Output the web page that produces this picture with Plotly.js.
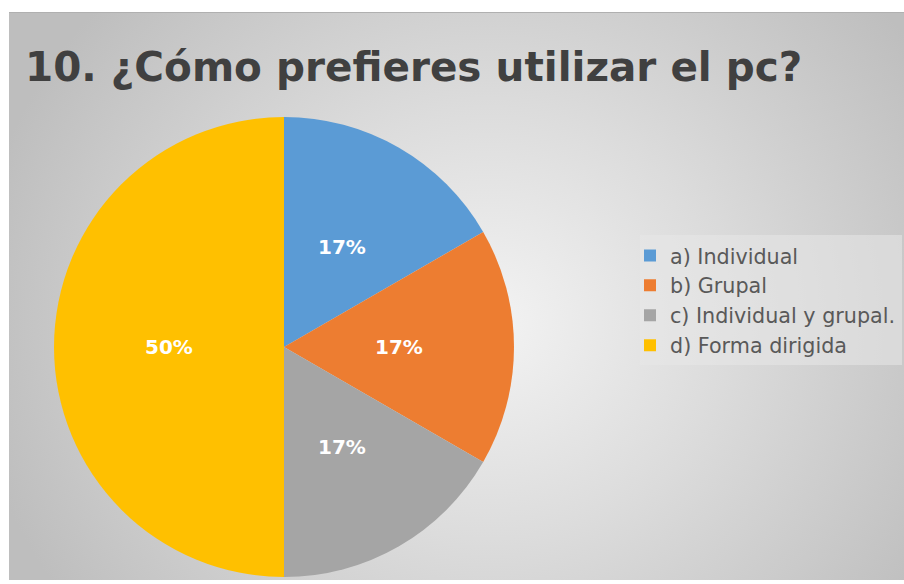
<!DOCTYPE html>
<html>
<head>
<meta charset="utf-8">
<script src="https://cdn.plot.ly/plotly-3.0.1.min.js"></script>
<style>
html,body{margin:0;padding:0;background:#ffffff;}
#wrap{position:relative;width:904px;height:584px;overflow:hidden;}
#bg{position:absolute;left:9px;top:12px;width:895px;height:568px;
background:radial-gradient(ellipse 520px 480px at 480px 310px,#f3f3f3 0%,#dcdcdc 45%,#bebebe 100%);
border-top:1px solid #b0b0b0;box-sizing:border-box;}
#chart{position:absolute;left:0;top:0;width:904px;height:584px;}
</style>
</head>
<body>
<div id="wrap"><div id="bg"></div><div id="chart"></div></div>
<script>
const categories = ["a) Individual", "b) Grupal", "c) Individual y grupal.", "d) Forma dirigida"];
const values = [1, 1, 1, 3];
const colors = ["#5B9BD5", "#ED7D31", "#A5A5A5", "#FFC000"];
const titleText = "10. ¿Cómo prefieres utilizar el pc?";

const W = 904, H = 584;
const domX = [54 / W, 514 / W], domY = [(H - 577) / H, (H - 117) / H];

const trace = {
  type: "pie",
  labels: categories,
  values: values,
  sort: false,
  direction: "clockwise",
  rotation: 0,
  marker: {colors: colors, line: {width: 0}},
  textinfo: "none",
  hoverinfo: "label+percent",
  domain: {x: domX, y: domY}
};

// percentage labels placed at half radius along each slice's mid-angle
const total = values.reduce((a, b) => a + b, 0);
const cxPx = (domX[0] + domX[1]) / 2 * W;
const cyPx = H - (domY[0] + domY[1]) / 2 * H;
const rPx = Math.min((domX[1] - domX[0]) * W, (domY[1] - domY[0]) * H) / 2;
let cum = 0;
const annotations = values.map((v) => {
  const mid = (cum + v / 2) / total * 2 * Math.PI;
  cum += v;
  const px = cxPx + 0.5 * rPx * Math.sin(mid);
  const py = cyPx - 0.5 * rPx * Math.cos(mid);
  return {
    x: px / W, y: 1 - py / H, xref: "paper", yref: "paper",
    xanchor: "center", yanchor: "middle", showarrow: false,
    text: "<b>" + Math.round(v / total * 100) + "%</b>",
    font: {family: "DejaVu Sans", size: 20, color: "#ffffff"}
  };
});

const layout = {
  width: W, height: H,
  margin: {l: 0, r: 0, t: 0, b: 0},
  paper_bgcolor: "rgba(0,0,0,0)",
  plot_bgcolor: "rgba(0,0,0,0)",
  title: {
    text: "<b>" + titleText + "</b>",
    font: {family: "DejaVu Sans", size: 40.5, color: "#404040"},
    x: 25 / W, xanchor: "left", xref: "container",
    y: 1 - 67 / H, yanchor: "middle", yref: "container"
  },
  annotations: annotations,
  shapes: [{
    type: "rect", xref: "paper", yref: "paper", layer: "below",
    x0: 640 / W, x1: 902 / W, y0: 1 - 365 / H, y1: 1 - 235 / H,
    fillcolor: "rgba(232,232,232,0.55)", line: {width: 0}
  }],
  showlegend: true,
  legend: {
    x: 630 / W, xanchor: "left", y: 1 - 300.5 / H, yanchor: "middle",
    bgcolor: "rgba(0,0,0,0)",
    font: {family: "DejaVu Sans", size: 20.7, color: "#595959"},
    traceorder: "normal"
  }
};
Plotly.newPlot("chart", [trace], layout, {displayModeBar: false, staticPlot: true});
</script>
</body>
</html>
